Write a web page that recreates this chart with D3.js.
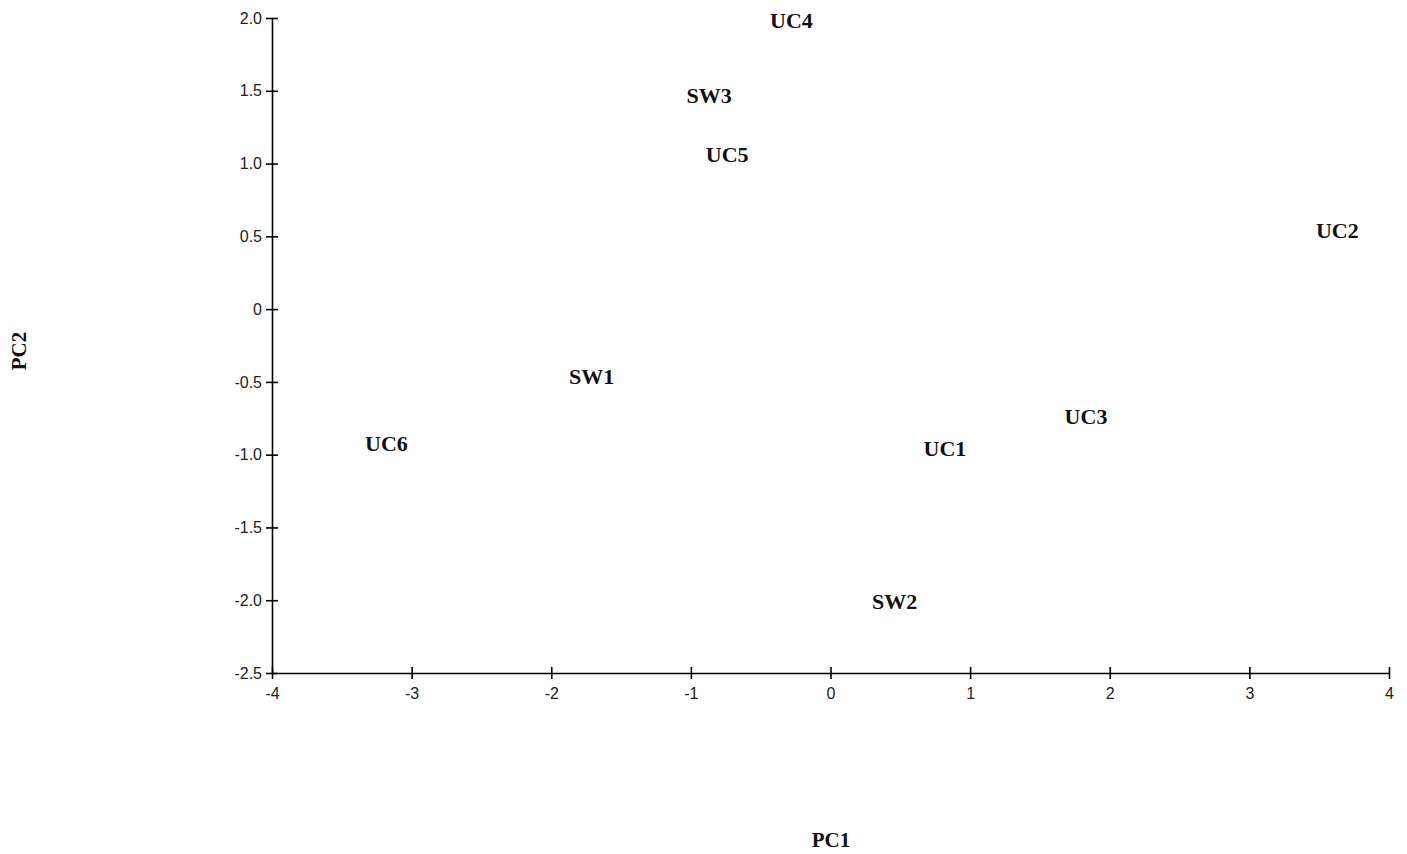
<!DOCTYPE html>
<html>
<head>
<meta charset="utf-8">
<script src="https://cdn.jsdelivr.net/npm/d3@7"></script>
<style>
  body { margin: 0; background: #fff; }
  .tick text { font-family: "Liberation Sans", Arial, sans-serif; font-size: 16px; fill: #222; }
  .lbl { font-family: "Liberation Serif", "Times New Roman", serif; font-weight: bold; font-size: 22px; fill: #111; }
</style>
</head>
<body>
<div id="chart"></div>
<script>
// sample names and their PC scores
var names = ["UC1", "UC2", "UC3", "UC4", "UC5", "UC6", "SW1", "SW2", "SW3"];
var pc1 = [0.82, 3.63, 1.83, -0.28, -0.74, -3.18, -1.71, 0.46, -0.87];
var pc2 = [-0.96, 0.54, -0.74, 1.98, 1.06, -0.92, -0.46, -2.01, 1.47];

var xTicks = [-4, -3, -2, -1, 0, 1, 2, 3, 4];
var yTicks = [2.0, 1.5, 1.0, 0.5, 0, -0.5, -1.0, -1.5, -2.0, -2.5];

var W = 1407, H = 854;
var margin = { top: 18, right: 18, bottom: 181, left: 272 };
var width = W - margin.left - margin.right,
  height = H - margin.top - margin.bottom;

var svg = d3
  .select("#chart")
  .append("svg")
  .attr("width", W)
  .attr("height", H);

var g = svg
  .append("g")
  .attr("transform", "translate(" + margin.left + "," + margin.top + ")");

var x = d3.scaleLinear().domain([-4, 4]).range([0, width]);
var y = d3.scaleLinear().domain([-2.5, 2.0]).range([height, 0]);

// plain hyphen for negatives, like the original
var hy = function(s) { return s.replace("\u2212", "-"); };

var xAxis = d3
  .axisBottom(x)
  .tickValues(xTicks)
  .tickSizeOuter(0)
  .tickSizeInner(6)
  .tickPadding(10)
  .tickFormat(function(d) { return hy(d3.format("d")(d)); });

var yAxis = d3
  .axisLeft(y)
  .tickValues(yTicks)
  .tickSizeOuter(0)
  .tickSizeInner(6)
  .tickPadding(4)
  .tickFormat(function(d) {
    return d === 0 ? "0" : hy(d3.format(".1f")(d));
  });

var gx = g
  .append("g")
  .attr("class", "x axis")
  .attr("transform", "translate(0," + height + ")")
  .call(xAxis);

var gy = g
  .append("g")
  .attr("class", "y axis")
  .call(yAxis);

// ticks cross the axis line on both sides
gx.selectAll(".tick line").attr("y1", -6).attr("y2", 6);
gy.selectAll(".tick line").attr("x1", -6).attr("x2", 6);
g.selectAll(".domain, .tick line").attr("stroke", "#000").attr("stroke-width", 1.6);
gx.selectAll(".tick text").attr("y", 15).attr("dy", "0.71em");

g.selectAll("text.pt")
  .data(names)
  .enter()
  .append("text")
  .attr("class", "lbl pt")
  .attr("x", function(d, i) { return x(pc1[i]); })
  .attr("y", function(d, i) { return y(pc2[i]); })
  .attr("text-anchor", "middle")
  .attr("dominant-baseline", "central")
  .text(function(d) { return d; });

svg
  .append("text")
  .attr("class", "lbl")
  .style("font-size", "21px")
  .attr("x", 831)
  .attr("y", 847)
  .attr("text-anchor", "middle")
  .text("PC1");

svg
  .append("text")
  .attr("class", "lbl")
  .style("font-size", "21px")
  .attr("transform", "translate(26,351) rotate(-90)")
  .attr("text-anchor", "middle")
  .text("PC2");
</script>
</body>
</html>
